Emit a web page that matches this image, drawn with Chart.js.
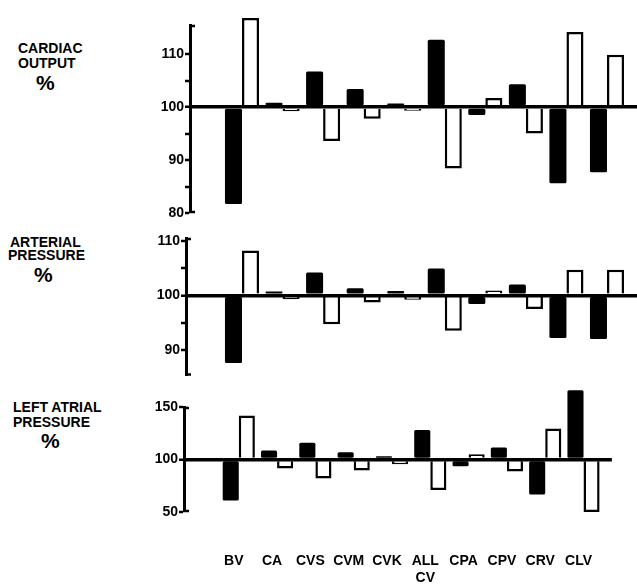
<!DOCTYPE html>
<html>
<head>
<meta charset="utf-8">
<script src="https://cdn.jsdelivr.net/npm/chart.js@4.4.1/dist/chart.umd.min.js"></script>
<style>
  html, body { margin: 0; padding: 0; background: #fff; }
  #wrap { position: relative; width: 637px; height: 585px; overflow: hidden; }
  canvas { position: absolute; left: 0; }
  .lbl { position: absolute; font: bold 14px "Liberation Sans", Arial, sans-serif; line-height: 15px; color: #000; white-space: nowrap; }
  .pct { font-size: 21px; line-height: 20px; }
</style>
</head>
<body>
<div id="wrap">
  <div class="lbl" style="left:18px;top:41px">CARDIAC</div>
  <div class="lbl" style="left:18px;top:56px">OUTPUT</div>
  <div class="lbl pct" style="left:36px;top:73px">%</div>

  <div class="lbl" style="left:10px;top:235px">ARTERIAL</div>
  <div class="lbl" style="left:8px;top:248px">PRESSURE</div>
  <div class="lbl pct" style="left:34px;top:265px">%</div>

  <div class="lbl" style="left:13px;top:400px">LEFT ATRIAL</div>
  <div class="lbl" style="left:13px;top:415px">PRESSURE</div>
  <div class="lbl pct" style="left:41px;top:431px">%</div>

  <canvas id="co" width="637" height="225" style="top:0"></canvas>
  <canvas id="ap" width="637" height="160" style="top:225px"></canvas>
  <canvas id="lap" width="637" height="200" style="top:385px"></canvas>
</div>
<script>
// categories (x axis)
const categories = ["BV", "CA", "CVS", "CVM", "CVK", "ALL CV", "CPA", "CPV", "CRV", "CLV"];

// cardiac output, % of control (filled = black bar, open = white bar)
const coFilled = [81.7, 100.8, 106.7, 103.4, 100.7, 112.7, 98.5, 104.3, 85.6, 87.7];
const coOpen = [116.8, 99.2, 93.6, 97.8, 99.3, 88.4, 101.7, 95.0, 114.2, 109.9];

// arterial pressure, %
const apFilled = [87.6, 100.7, 104.2, 101.3, 100.8, 104.9, 98.4, 102.0, 92.2, 92.0];
const apOpen = [108.2, 99.3, 94.7, 98.7, 99.2, 93.5, 100.9, 97.5, 104.7, 104.7];

// left atrial pressure, %
const lapFilled = [61, 108.6, 116, 107, 103, 128, 93.5, 111.4, 66.7, 166];
const lapOpen = [141.9, 91.4, 82, 89.5, 95.5, 71, 105, 88.6, 129.5, 50];

// y axis ticks
const coTicks = [80, 85, 90, 95, 100, 105, 110];
const apTicks = [90, 95, 100, 105, 110];
const lapTicks = [50, 100, 150];

Chart.defaults.font.family = '"Liberation Sans", Arial, sans-serif';
Chart.defaults.font.weight = 'bold';
Chart.defaults.font.size = 14;
Chart.defaults.color = '#000';

// little hooks at both ends of the y axis
const axisHooks = {
  id: 'axisHooks',
  afterDraw(chart) {
    const ctx = chart.ctx;
    const y = chart.scales.y;
    const left = chart.chartArea.left;
    ctx.save();
    ctx.strokeStyle = '#000';
    ctx.lineWidth = 2.5;
    ctx.beginPath();
    ctx.moveTo(left - 1, y.top + 1);
    ctx.lineTo(left + 5, y.top + 1);
    ctx.moveTo(left - 1, y.bottom - 1);
    ctx.lineTo(left + 5, y.bottom - 1);
    ctx.stroke();
    ctx.restore();
  }
};

function makeChart(id, filled, open, opts) {
  // first category sits at x=242px, last at x=607px, whatever the axis position
  const pxPerUnit = (607 - 242) / (categories.length - 1);
  const xMin = 1 - (242 - opts.axisX) / pxPerUnit;
  const xMax = categories.length + (637 - 607) / pxPerUnit;

  return new Chart(document.getElementById(id), {
    type: 'bar',
    plugins: [axisHooks],
    data: {
      datasets: [
        {
          data: filled.map((v, i) => ({ x: i + 1, y: v })),
          base: 100,
          backgroundColor: '#000',
          borderWidth: 0,
          borderRadius: 1.5,
          borderSkipped: false,
          clip: false,
          categoryPercentage: 0.84,
          barPercentage: 1,
        },
        {
          data: open.map((v, i) => ({ x: i + 1, y: v })),
          base: 100,
          backgroundColor: '#fff',
          borderColor: '#000',
          borderWidth: 2.5,
          borderSkipped: 'start',
          clip: false,
          categoryPercentage: 0.84,
          barPercentage: 1,
        },
      ],
    },
    options: {
      responsive: false,
      animation: false,
      layout: { padding: { top: opts.padTop, bottom: opts.padBottom, left: 0, right: 0 } },
      plugins: { legend: { display: false }, tooltip: { enabled: false } },
      scales: {
        x: {
          type: 'linear',
          min: xMin,
          max: xMax,
          offset: false,
          display: opts.showX,
          grid: { display: false, drawTicks: false, offset: false },
          border: { display: false },
          afterBuildTicks: (s) => { s.ticks = categories.map((_, i) => ({ value: i + 1 })); },
          afterFit: (s) => { if (opts.xHeight) s.height = opts.xHeight; },
          ticks: {
            autoSkip: false,
            maxRotation: 0,
            padding: 40,
            labelOffset: -5,
            font: { size: 14, weight: 'bold', lineHeight: 1.25 },
            callback: (v) => categories[v - 1].split(' '),
          },
        },
        y: {
          min: opts.yMin,
          max: opts.yMax,
          afterFit: (s) => { s.width = opts.axisX; },
          afterBuildTicks: (s) => { s.ticks = opts.ticks.map((v) => ({ value: v })); },
          border: { display: true, color: '#000', width: 3, z: 1 },
          grid: {
            z: 1,
            drawTicks: true,
            tickLength: 5,
            tickWidth: 2.5,
            tickColor: '#000',
            color: (c) => (c.tick && c.tick.value === 100 ? '#000' : 'rgba(0,0,0,0)'),
            lineWidth: (c) => (c.tick && c.tick.value === 100 ? 3.5 : 0),
          },
          ticks: {
            padding: 1,
            font: { size: 14, weight: 'bold' },
            callback: (v) => (v % opts.labelEvery === 0 ? v : ''),
          },
        },
      },
    },
  });
}

makeChart('co', coFilled, coOpen, {
  axisX: 190, yMin: 80, yMax: 115.5, ticks: coTicks, labelEvery: 10,
  padTop: 25, padBottom: 12, showX: false,
});

makeChart('ap', apFilled, apOpen, {
  axisX: 186, yMin: 85.3, yMax: 110.5, ticks: apTicks, labelEvery: 10,
  padTop: 13, padBottom: 6, showX: false,
});

makeChart('lap', lapFilled, lapOpen, {
  axisX: 184, yMin: 50, yMax: 150, ticks: lapTicks, labelEvery: 50,
  padTop: 22, padBottom: 0, showX: true, xHeight: 73,
});
</script>
</body>
</html>
